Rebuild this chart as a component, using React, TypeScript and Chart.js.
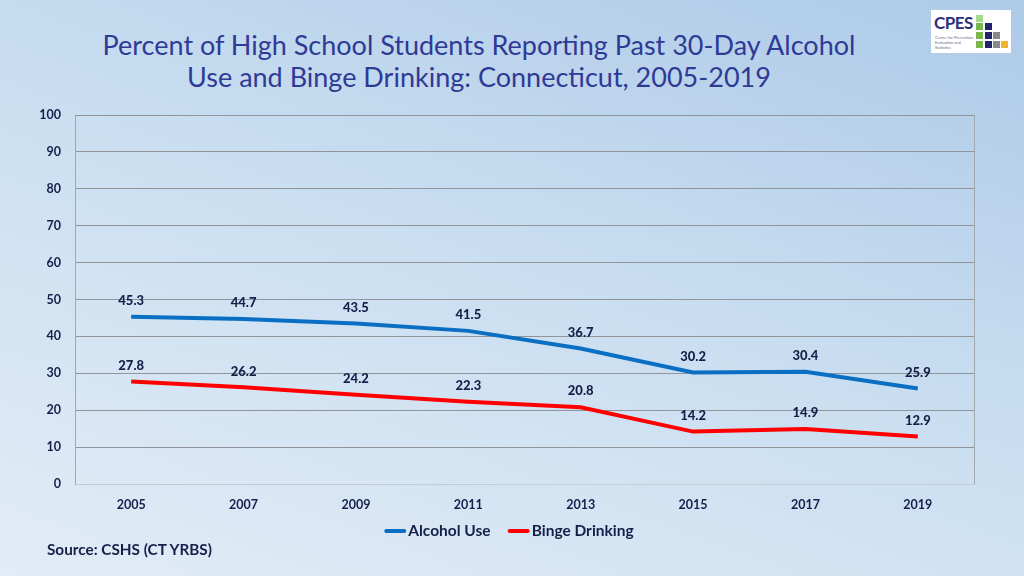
import React, { useEffect, useRef } from "react";
import { Chart, registerables } from "chart.js";

Chart.register(...registerables);

const years = ["2005", "2007", "2009", "2011", "2013", "2015", "2017", "2019"];
const alcoholUse = [45.3, 44.7, 43.5, 41.5, 36.7, 30.2, 30.4, 25.9];
const bingeDrinking = [27.8, 26.2, 24.2, 22.3, 20.8, 14.2, 14.9, 12.9];
const seriesNames = ["Alcohol Use", "Binge Drinking"];
const seriesColors = ["#0a6fc2", "#ff0000"];
const yTicks = [0, 10, 20, 30, 40, 50, 60, 70, 80, 90, 100];

const NAVY = "#14204a";
const FONT = "Lato, 'Open Sans', sans-serif";

const labelPlugin = {
  id: "pointLabels",
  afterDatasetsDraw(chart: any) {
    const ctx = chart.ctx;
    ctx.save();
    ctx.font = `900 13px ${FONT}`;
    ctx.fillStyle = NAVY;
    ctx.textAlign = "center";
    ctx.textBaseline = "middle";
    chart.data.datasets.forEach((ds: any, i: number) => {
      const meta = chart.getDatasetMeta(i);
      meta.data.forEach((pt: any, j: number) => {
        ctx.fillText(String(ds.data[j]), pt.x, pt.y - 16);
      });
    });
    ctx.restore();
  },
};

const legendPlugin = {
  id: "customLegend",
  afterDraw(chart: any) {
    const ctx = chart.ctx;
    ctx.save();
    ctx.font = `bold 15.5px ${FONT}`;
    ctx.textBaseline = "middle";
    ctx.textAlign = "left";
    const y = 531;
    const lineW = 22;
    const gap = 2;
    const itemGap = 17;
    const items = chart.data.datasets.map((ds: any) => ({
      label: ds.label,
      color: ds.borderColor,
      w: lineW + gap + ctx.measureText(ds.label).width,
    }));
    const total = items.reduce((s: number, it: any) => s + it.w, 0) + itemGap * (items.length - 1);
    let x = 509 - total / 2;
    items.forEach((it: any) => {
      ctx.strokeStyle = it.color;
      ctx.lineWidth = 4;
      ctx.lineCap = "round";
      ctx.beginPath();
      ctx.moveTo(x + 2, y);
      ctx.lineTo(x + lineW - 2, y);
      ctx.stroke();
      ctx.fillStyle = NAVY;
      ctx.fillText(it.label, x + lineW + gap, y);
      x += it.w + itemGap;
    });
    ctx.restore();
  },
};

const framePlugin = {
  id: "frame",
  beforeDatasetsDraw(chart: any) {
    const { ctx, chartArea } = chart;
    ctx.save();
    ctx.strokeStyle = "#a0a8b0";
    ctx.lineWidth = 1;
    ctx.beginPath();
    ctx.moveTo(chartArea.right + 0.5, chartArea.top);
    ctx.lineTo(chartArea.right + 0.5, chartArea.bottom);
    ctx.stroke();
    ctx.restore();
  },
};

function App() {
  const ref = useRef<HTMLCanvasElement>(null);
  useEffect(() => {
    if (!ref.current) return;
    const chart = new Chart(ref.current, {
      type: "line",
      data: {
        labels: years,
        datasets: [
          {
            label: seriesNames[0],
            data: alcoholUse,
            borderColor: seriesColors[0],
            backgroundColor: seriesColors[0],
            borderWidth: 4,
            pointRadius: 0,
            tension: 0,
          },
          {
            label: seriesNames[1],
            data: bingeDrinking,
            borderColor: seriesColors[1],
            backgroundColor: seriesColors[1],
            borderWidth: 4,
            pointRadius: 0,
            tension: 0,
          },
        ],
      },
      options: {
        animation: false,
        responsive: false,
        layout: { padding: { top: 115, left: 0, right: 50, bottom: 60 } },
        plugins: {
          title: { display: false },
          tooltip: { enabled: false },
          legend: { display: false },
        },
        scales: {
          x: {
            offset: true,
            grid: { display: false, drawTicks: false },
            border: { display: true, color: "#c4ccd4" },
            ticks: {
              color: NAVY,
              font: { family: FONT, size: 12.5, weight: "bold" },
              padding: 13,
            },
            afterFit(scale: any) {
              scale.height = 32;
            },
          },
          y: {
            min: 0,
            max: 100,
            afterBuildTicks(scale: any) {
              scale.ticks = yTicks.map((v) => ({ value: v }));
            },
            grid: { color: "#8f959b", lineWidth: 1, drawTicks: false },
            border: { display: true, color: "#a0a8b0" },
            ticks: {
              color: NAVY,
              font: { family: FONT, size: 12.5, weight: "bold" },
              padding: 14,
            },
            afterFit(scale: any) {
              scale.width = 75;
            },
          },
        },
      },
      plugins: [labelPlugin, framePlugin, legendPlugin],
    } as any);
    return () => chart.destroy();
  }, []);

  return (
    <div
      style={{
        position: "absolute",
        left: 0,
        top: 0,
        width: 1024,
        height: 576,
        overflow: "hidden",
        background: "linear-gradient(200deg, #adcae7 0%, #cbdff1 50%, #e2ecf6 100%)",
        fontFamily: FONT,
      }}
    >
      <div
        style={{
          position: "absolute",
          left: 79,
          top: 29,
          width: 800,
          textAlign: "center",
          color: "#2f3a96",
          fontSize: 27,
          lineHeight: "32px",
        }}
      >
        Percent of High School Students Reporting Past 30-Day Alcohol
        <br />
        Use and Binge Drinking: Connecticut, 2005-2019
      </div>
      <div
        style={{
          position: "absolute",
          left: 931,
          top: 10,
          width: 80,
          height: 43,
          background: "#ffffff",
        }}
      >
        <div
          style={{
            position: "absolute",
            left: 3,
            top: 4,
            color: "#2b2f7a",
            fontWeight: "bold",
            fontSize: 17,
            lineHeight: "18px",
            letterSpacing: -0.5,
          }}
        >
          CPES
        </div>
        <div
          style={{
            position: "absolute",
            left: 4,
            top: 25,
            width: 42,
            color: "#6a6a8a",
            fontSize: 4,
            lineHeight: "5px",
          }}
        >
          Center for Prevention Evaluation and Statistics
        </div>
        {[
          [45, 5, "#a6d889"],
          [45, 13, "#78b84a"],
          [45, 22, "#78b84a"],
          [45, 31, "#78b84a"],
          [54, 13, "#23236b"],
          [54, 22, "#23236b"],
          [54, 31, "#23236b"],
          [62, 22, "#8a8a8a"],
          [62, 31, "#8a8a8a"],
          [70, 31, "#f2b233"],
        ].map(([x, y, c], i) => (
          <div
            key={i}
            style={{
              position: "absolute",
              left: x as number,
              top: y as number,
              width: 7,
              height: 7,
              background: c as string,
            }}
          />
        ))}
      </div>
      <canvas ref={ref} width={1024} height={576} style={{ position: "absolute", left: 0, top: 0 }} />
      <div
        style={{
          position: "absolute",
          left: 47,
          top: 540,
          color: NAVY,
          fontWeight: "bold",
          fontSize: 15.3,
        }}
      >
        Source: CSHS (CT YRBS)
      </div>
    </div>
  );
}

export default App;
